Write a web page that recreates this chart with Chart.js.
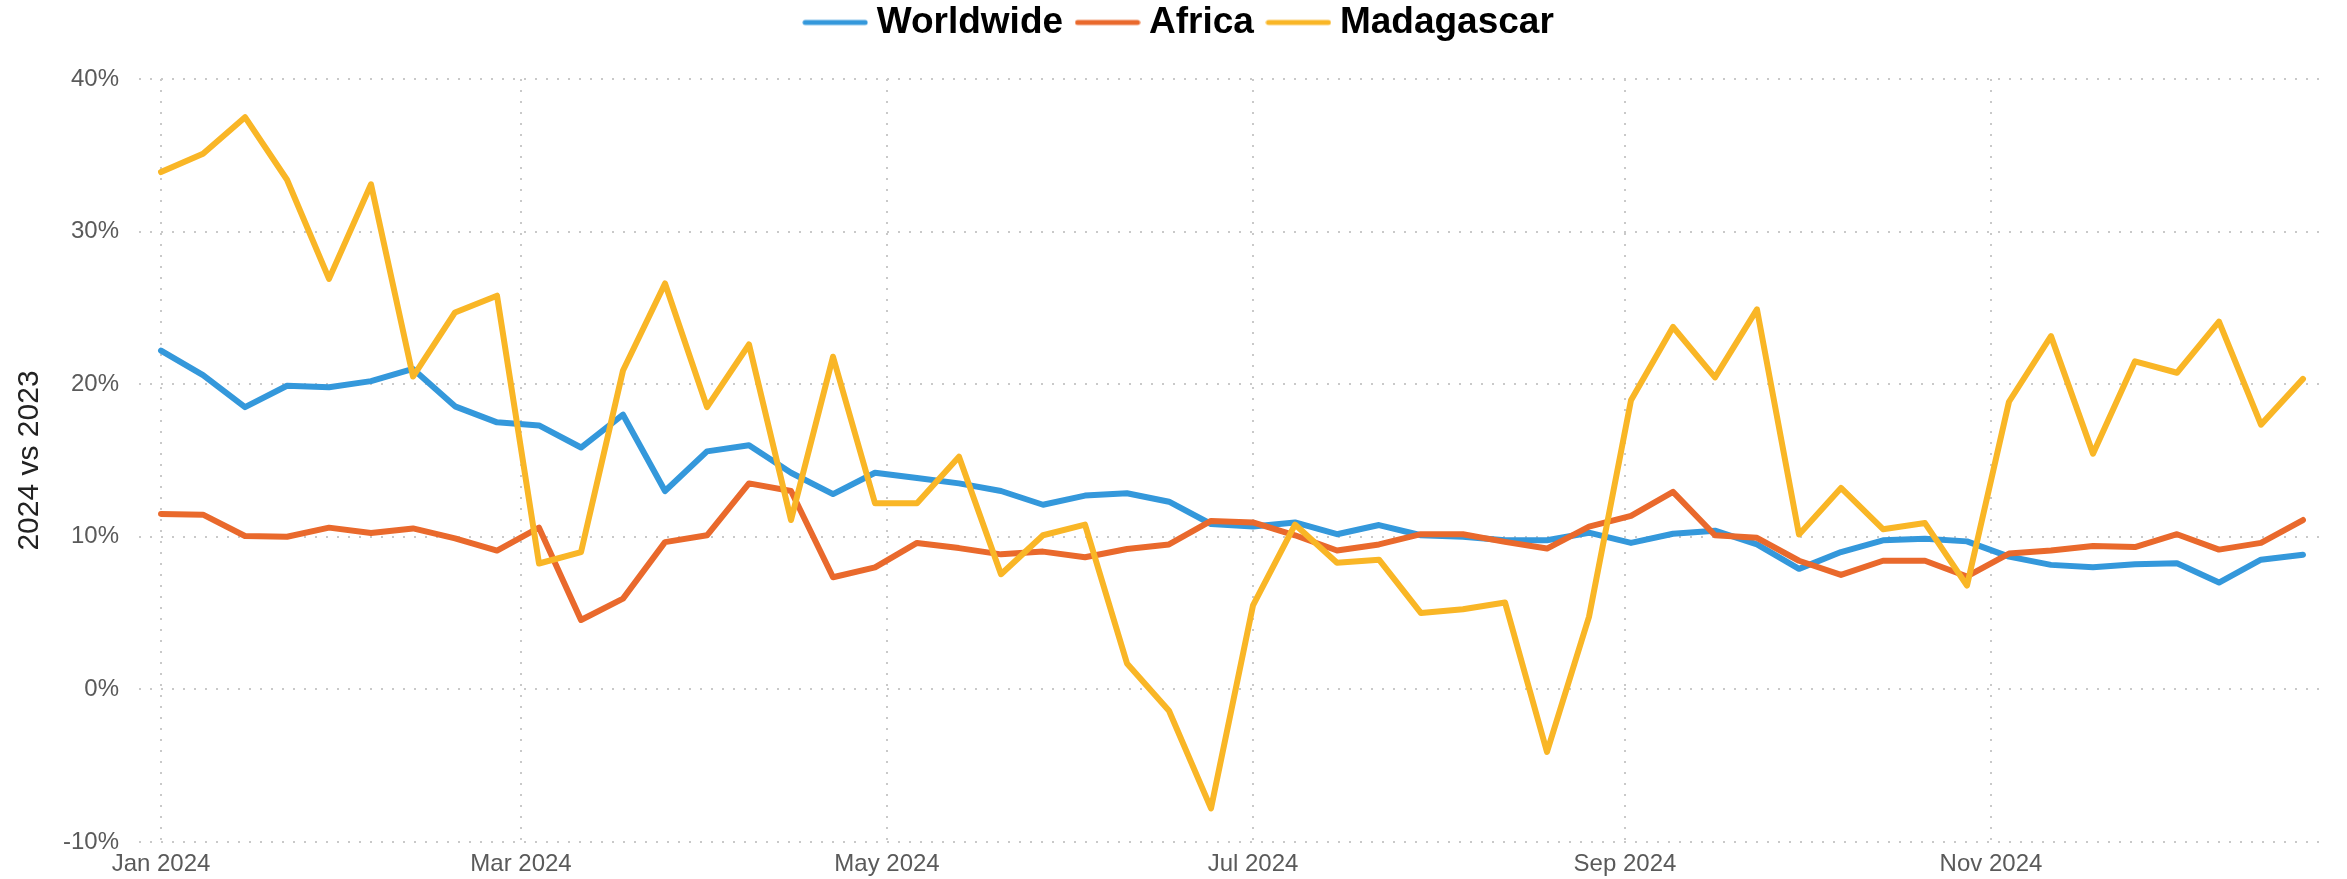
<!DOCTYPE html>
<html>
<head>
<meta charset="utf-8">
<title>2024 vs 2023</title>
<script src="https://cdn.jsdelivr.net/npm/chart.js@4.4.1/dist/chart.umd.min.js"></script>
<style>
  html, body { margin: 0; padding: 0; background: #ffffff; }
  #chart { display: block; }
</style>
</head>
<body>
<canvas id="chart" width="2347" height="879"></canvas>
<script>
// --- Data ---
const weeks = [
  "2024-01-01", "2024-01-08", "2024-01-15", "2024-01-22", "2024-01-29",
  "2024-02-05", "2024-02-12", "2024-02-19", "2024-02-26",
  "2024-03-04", "2024-03-11", "2024-03-18", "2024-03-25",
  "2024-04-01", "2024-04-08", "2024-04-15", "2024-04-22", "2024-04-29",
  "2024-05-06", "2024-05-13", "2024-05-20", "2024-05-27",
  "2024-06-03", "2024-06-10", "2024-06-17", "2024-06-24",
  "2024-07-01", "2024-07-08", "2024-07-15", "2024-07-22", "2024-07-29",
  "2024-08-05", "2024-08-12", "2024-08-19", "2024-08-26",
  "2024-09-02", "2024-09-09", "2024-09-16", "2024-09-23", "2024-09-30",
  "2024-10-07", "2024-10-14", "2024-10-21", "2024-10-28",
  "2024-11-04", "2024-11-11", "2024-11-18", "2024-11-25",
  "2024-12-02", "2024-12-09", "2024-12-16", "2024-12-23",
];

const worldwide = [
  22.2, 20.6, 18.5, 19.9, 19.8, 20.2, 21.0, 18.55, 17.5, 17.3,
  15.85, 18.0, 13.0, 15.6, 16.0, 14.2, 12.8, 14.2, 13.85, 13.5,
  13.0, 12.1, 12.7, 12.85, 12.3, 10.84, 10.67, 10.94, 10.17, 10.77,
  10.1, 10.0, 9.77, 9.77, 10.27, 9.6, 10.2, 10.4, 9.5, 7.9,
  9.0, 9.77, 9.87, 9.7, 8.7, 8.16, 8.0, 8.2, 8.26, 7.0,
  8.5, 8.83,
];

const africa = [
  11.5, 11.45, 10.05, 10.0, 10.6, 10.25, 10.55, 9.9, 9.1, 10.6,
  4.55, 5.95, 9.65, 10.1, 13.5, 13.0, 7.35, 8.0, 9.6, 9.26,
  8.85, 9.03, 8.66, 9.2, 9.5, 11.04, 10.94, 10.1, 9.1, 9.5,
  10.17, 10.17, 9.67, 9.23, 10.67, 11.37, 12.94, 10.1, 9.93, 8.43,
  7.5, 8.43, 8.43, 7.4, 8.9, 9.1, 9.4, 9.33, 10.17, 9.16,
  9.6, 11.1,
];

const madagascar = [
  33.9, 35.1, 37.5, 33.4, 26.9, 33.1, 20.5, 24.7, 25.8, 8.25,
  9.0, 20.9, 26.6, 18.5, 22.6, 11.1, 21.8, 12.2, 12.2, 15.25,
  7.55, 10.1, 10.8, 1.7, -1.4, -7.8, 5.5, 10.8, 8.3, 8.5,
  5.0, 5.25, 5.7, -4.1, 4.75, 18.95, 23.75, 20.45, 24.9, 10.15,
  13.2, 10.5, 10.9, 6.8, 18.85, 23.15, 15.45, 21.5, 20.75, 24.1,
  17.35, 20.35,
];

const tickDates = ["2024-01-01", "2024-03-01", "2024-05-01", "2024-07-01", "2024-09-01", "2024-11-01"];
const tickLabels = ["Jan 2024", "Mar 2024", "May 2024", "Jul 2024", "Sep 2024", "Nov 2024"];

// --- Helpers ---
const START = Date.UTC(2024, 0, 1);
const dayOf = (iso) => {
  const [y, m, d] = iso.split("-").map(Number);
  return (Date.UTC(y, m - 1, d) - START) / 86400000;
};
const toPoints = (values) => values.map((v, i) => ({ x: dayOf(weeks[i]), y: v }));

const FONT = "'Liberation Sans', Arial, sans-serif";
const GRID_COLOR = "#c9c9c9";
const TICK_COLOR = "#5a5a5a";
const PAD_LEFT = 41; // shifts the legend row so it sits where the original one does

// little line swatch for the legend (longer than the legend box)
function legendSwatch(color) {
  const c = document.createElement("canvas");
  c.width = 66;
  c.height = 8;
  const g = c.getContext("2d");
  g.strokeStyle = color;
  g.lineWidth = 5;
  g.lineCap = "round";
  g.beginPath();
  g.moveTo(3, 4);
  g.lineTo(63, 4);
  g.stroke();
  return c;
}

// push the plot down below the legend
const legendMargin = {
  id: "legendMargin",
  beforeInit(chart) {
    const origFit = chart.legend.fit;
    chart.legend.fit = function fit() {
      origFit.bind(chart.legend)();
      this.height = 96.5;
    };
  },
};

const makeDataset = (label, values, color, order) => ({
  label,
  data: toPoints(values),
  borderColor: color,
  backgroundColor: color,
  borderWidth: 6,
  pointRadius: 0,
  pointHoverRadius: 0,
  pointStyle: legendSwatch(color),
  tension: 0,
  borderJoinStyle: "round",
  borderCapStyle: "round",
  order,
});

new Chart(document.getElementById("chart"), {
  type: "line",
  data: {
    datasets: [
      makeDataset("Worldwide", worldwide, "#3498db", 2),
      makeDataset("Africa", africa, "#e9692c", 1),
      makeDataset("Madagascar", madagascar, "#f9b626", 0),
    ],
  },
  plugins: [legendMargin],
  options: {
    responsive: false,
    animation: false,
    devicePixelRatio: 1,
    layout: { padding: { left: PAD_LEFT, right: 22, top: -17.5, bottom: 0 } },
    plugins: {
      legend: {
        position: "top",
        align: "center",
        labels: {
          usePointStyle: true,
          pointStyleWidth: 46,
          padding: 21.5,
          color: "#000000",
          font: { family: FONT, size: 37, weight: "bold" },
          sort: (a, b) => a.datasetIndex - b.datasetIndex,
        },
      },
      tooltip: { enabled: false },
    },
    scales: {
      x: {
        type: "linear",
        min: -3.67,
        max: 360.67,
        afterBuildTicks: (scale) => {
          scale.ticks = tickDates.map((d) => ({ value: dayOf(d) }));
        },
        afterFit: (scale) => {
          scale.height = 37;
        },
        ticks: {
          autoSkip: false,
          maxRotation: 0,
          padding: 8,
          color: TICK_COLOR,
          font: { family: FONT, size: 24 },
          callback: (value, index) => tickLabels[index],
        },
        grid: { color: GRID_COLOR, lineWidth: 2, drawTicks: false },
        border: { display: false, dash: [2, 9] },
      },
      y: {
        min: -10,
        max: 40,
        afterFit: (scale) => {
          scale.width = 139 - PAD_LEFT;
        },
        ticks: {
          stepSize: 10,
          padding: 20,
          color: TICK_COLOR,
          font: { family: FONT, size: 24 },
          callback: (value) => value + "%",
        },
        title: {
          display: true,
          text: "2024 vs 2023",
          color: "#222222",
          // negative so the title goes back into the left margin
          padding: { top: 12 - PAD_LEFT, bottom: 4 },
          font: { family: FONT, size: 30 },
        },
        grid: { color: GRID_COLOR, lineWidth: 2, drawTicks: false },
        border: { display: false, dash: [2, 9] },
      },
    },
  },
});
</script>
</body>
</html>
